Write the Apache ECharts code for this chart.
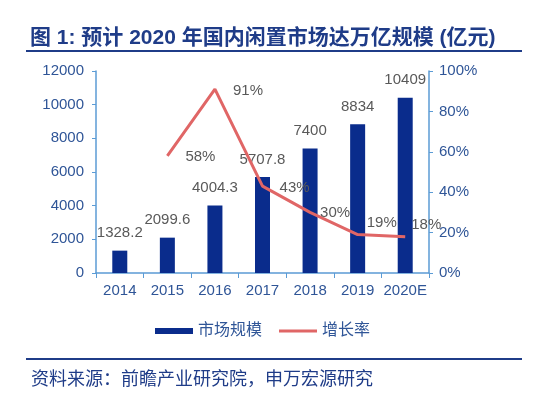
<!DOCTYPE html>
<html><head><meta charset="utf-8">
<script src="https://cdn.jsdelivr.net/npm/echarts@6/dist/echarts.min.js"></script>
<style>html,body{margin:0;padding:0;background:#fff}#c{width:554px;height:400px}</style>
</head><body><div id="c"></div>
<script>
const categories = ['2014','2015','2016','2017','2018','2019','2020E'];
const marketSize = [1328.2, 2099.6, 4004.3, 5707.8, 7400, 8834, 10409];
const growthRate = [null, 58, 91, 43, 30, 19, 18];
const leftTicks = {min: 0, max: 12000, interval: 2000};
const rightTicks = {min: 0, max: 100, interval: 20};
const rateLabelOffsets = [[0,0],[12,1],[12,2],[11,2],[4,0],[3,-12],[0,-12]];

const FONT = "'Liberation Sans', 'Noto Sans CJK SC', sans-serif";
const axisColor = '#5b9bd5';
const labelBlue = '#2f5597';
const chart = echarts.init(document.getElementById('c'), null, {renderer: 'canvas'});
chart.setOption({
  backgroundColor: '#fff',
  animation: false,
  title: [{
    text: '图 1: 预计 2020 年国内闲置市场达万亿规模 (亿元)',
    left: 25, top: 23,
    textStyle: {fontSize: 21, fontWeight: 'bold', color: '#1f3c88', fontFamily: FONT}
  }, {
    text: '资料来源：前瞻产业研究院，申万宏源研究',
    left: 26, top: 366,
    textStyle: {fontSize: 18, fontWeight: 'normal', color: '#1f3c88', fontFamily: FONT}
  }],
  graphic: [
    {type: 'rect', shape: {x: 26, y: 50, width: 496, height: 2}, style: {fill: '#1f3c88'}},
    {type: 'rect', shape: {x: 26, y: 358, width: 496, height: 2}, style: {fill: '#1f3c88'}}
  ],
  legend: {
    top: 318, left: 150,
    itemWidth: 38, itemHeight: 6, itemGap: 17,
    textStyle: {fontSize: 16, color: labelBlue, fontFamily: FONT},
    data: [{name: '市场规模', icon: 'rect'}, {name: '增长率', icon: 'path://M0,0H38V3H0Z'}]
  },
  grid: {left: 96, right: 125, top: 71, bottom: 127},
  xAxis: {
    type: 'category', data: categories,
    axisLine: {lineStyle: {color: axisColor, width: 1.5}},
    axisTick: {show: true, length: 5, lineStyle: {color: axisColor}},
    axisLabel: {fontSize: 15, color: labelBlue, fontFamily: FONT, margin: 10, interval: 0}
  },
  yAxis: [{
    type: 'value', min: leftTicks.min, max: leftTicks.max, interval: leftTicks.interval,
    splitLine: {show: false},
    axisLine: {show: true, lineStyle: {color: axisColor, width: 1.5}},
    axisTick: {show: true, length: 4, lineStyle: {color: axisColor}},
    axisLabel: {fontSize: 15, color: labelBlue, fontFamily: FONT, margin: 12, formatter: v => String(v)}
  }, {
    type: 'value', min: rightTicks.min, max: rightTicks.max, interval: rightTicks.interval,
    splitLine: {show: false},
    axisLine: {show: true, lineStyle: {color: axisColor, width: 1.5}},
    axisTick: {show: true, length: 4, lineStyle: {color: axisColor}},
    axisLabel: {fontSize: 15, color: labelBlue, fontFamily: FONT, margin: 10, formatter: '{value}%'}
  }],
  series: [{
    name: '市场规模', type: 'bar', data: marketSize, barWidth: 15,
    itemStyle: {color: '#0a2c8c'},
    label: {show: true, position: 'top', distance: 10, fontSize: 15, color: '#595959', fontFamily: FONT}
  }, {
    name: '增长率', type: 'line', yAxisIndex: 1,
    data: growthRate.map((v, i) => ({value: v, label: {offset: rateLabelOffsets[i]}})),
    smooth: false, symbol: 'circle', symbolSize: 0.1, showSymbol: true,
    lineStyle: {color: '#e06666', width: 3},
    itemStyle: {color: '#e06666'},
    label: {show: true, position: 'right', distance: 6, fontSize: 15, color: '#595959', fontFamily: FONT, formatter: '{c}%'}
  }]
});
</script></body></html>
